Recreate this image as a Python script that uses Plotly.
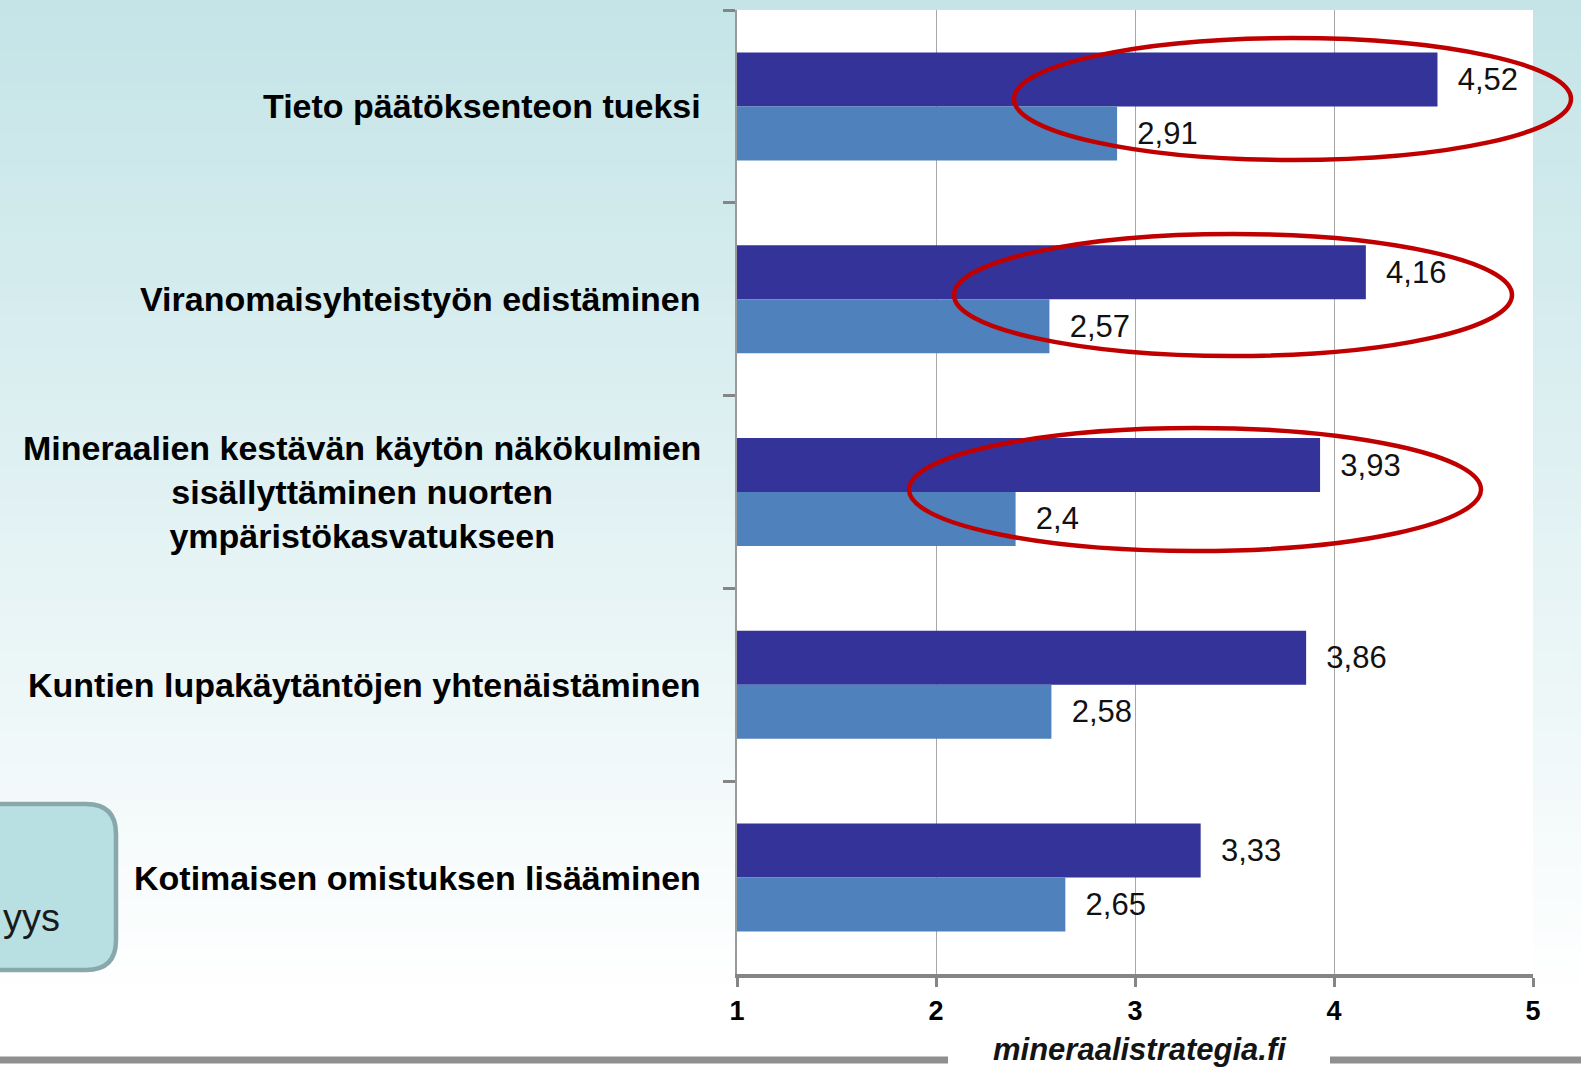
import plotly.graph_objects as go

# ---------------- data ----------------
categories = [
    "Tieto päätöksenteon tueksi",
    "Viranomaisyhteistyön edistäminen",
    "Mineraalien kestävän käytön näkökulmien<br>sisällyttäminen nuorten<br>ympäristökasvatukseen",
    "Kuntien lupakäytäntöjen yhtenäistäminen",
    "Kotimaisen omistuksen lisääminen",
]
series_a_name = "Tärkeys"
series_a = [4.52, 4.16, 3.93, 3.86, 3.33]
series_b_name = "Nykytila"
series_b = [2.91, 2.57, 2.40, 2.58, 2.65]
x_ticks = [1, 2, 3, 4, 5]
watermark = "mineraalistrategia.fi"
box_text = "yys"

# ---------------- layout geometry ----------------
W, H = 1581, 1069
ML, MR, MT, MB = 737, 48, 10, 95
PW, PH = W - ML - MR, H - MT - MB


def px(x):
    return (x - ML) / PW


def py(y):
    return (H - MB - y) / PH


FONT = "Arial, Liberation Sans, sans-serif"


def fmt(v):
    s = f"{v:.2f}".rstrip("0").rstrip(".")
    return "\u00a0\u00a0" + s.replace(".", ",")


fig = go.Figure()
fig.add_trace(go.Bar(
    name=series_a_name, y=categories, x=series_a, base=0, orientation="h",
    marker=dict(color="#333399", line=dict(width=0)),
    text=[fmt(v) for v in series_a], textposition="outside",
    textfont=dict(family=FONT, size=31, color="#111111"),
    constraintext="none", cliponaxis=False,
))
fig.add_trace(go.Bar(
    name=series_b_name, y=categories, x=series_b, base=0, orientation="h",
    marker=dict(color="#4F81BD", line=dict(width=0)),
    text=[fmt(v) for v in series_b], textposition="outside",
    textfont=dict(family=FONT, size=31, color="#111111"),
    constraintext="none", cliponaxis=False,
))

shapes = []
# background gradient (teal at top -> white at bottom)
top = (196, 228, 231)
n = 60
end_y = 1000
for i in range(n):
    y0 = end_y * i / n
    y1 = end_y * (i + 1) / n + 1
    t = (i + 0.5) / n
    c = tuple(round(top[k] + (255 - top[k]) * t) for k in range(3))
    shapes.append(dict(type="rect", xref="paper", yref="paper", layer="below",
                       x0=px(0), x1=px(W), y0=py(y1), y1=py(y0),
                       fillcolor=f"rgb{c}", line=dict(width=0)))
shapes.append(dict(type="rect", xref="paper", yref="paper", layer="below",
                   x0=px(0), x1=px(W), y0=py(H), y1=py(end_y),
                   fillcolor="white", line=dict(width=0)))
# white plot area
shapes.append(dict(type="rect", xref="paper", yref="paper", layer="below",
                   x0=0, x1=1, y0=0, y1=1, fillcolor="white", line=dict(width=0)))

# red highlight ellipses
for (x0, x1, y0, y1) in [(1014, 1571, 38, 160), (954, 1512, 234, 356), (909, 1481, 428, 551)]:
    shapes.append(dict(type="circle", xref="paper", yref="paper", layer="above",
                       x0=px(x0), x1=px(x1), y0=py(y1), y1=py(y0),
                       line=dict(color="#C00000", width=4.5)))

# rounded box at lower left
bx0, bx1, by0, by1, r = -30, 116, 804, 970, 30
path = (f"M {px(bx0)},{py(by0)} L {px(bx1 - r)},{py(by0)} "
        f"Q {px(bx1)},{py(by0)} {px(bx1)},{py(by0 + r)} "
        f"L {px(bx1)},{py(by1 - r)} Q {px(bx1)},{py(by1)} {px(bx1 - r)},{py(by1)} "
        f"L {px(bx0)},{py(by1)} Z")
shapes.append(dict(type="path", xref="paper", yref="paper", path=path,
                   fillcolor="#b8e0e3", line=dict(color="#88a8ab", width=4.5)))

# bottom rule with gap for watermark
for (x0, x1) in [(0, 948), (1330, W)]:
    shapes.append(dict(type="line", xref="paper", yref="paper",
                       x0=px(x0), x1=px(x1), y0=py(1060), y1=py(1060),
                       line=dict(color="#8f8f8f", width=7)))

annotations = []
for c in categories:
    annotations.append(dict(
        xref="paper", yref="y", x=0, y=c, xanchor="right", yanchor="middle",
        xshift=-34, text=f"<b>{c}</b>", showarrow=False, align="center",
        font=dict(family=FONT, size=34, color="black")))
annotations.append(dict(
    xref="paper", yref="paper", x=px(1140), y=py(1049), xanchor="center", yanchor="middle",
    text=f"<b><i>{watermark}</i></b>", showarrow=False, borderpad=0,
    font=dict(family=FONT, size=31, color="#141414")))
annotations.append(dict(
    xref="paper", yref="paper", x=px(62), y=py(918), xanchor="right", yanchor="middle",
    text=box_text, showarrow=False,
    font=dict(family=FONT, size=38, color="#1a1a1a")))

fig.update_layout(
    width=W, height=H,
    margin=dict(l=ML, r=MR, t=MT, b=MB, pad=0),
    paper_bgcolor="white", plot_bgcolor="rgba(0,0,0,0)",
    barmode="group", bargap=0.44, bargroupgap=0,
    showlegend=False,
    shapes=shapes, annotations=annotations,
    font=dict(family=FONT),
    xaxis=dict(
        range=[1, 5], tickvals=x_ticks, ticktext=[f"<b>{t}</b>" for t in x_ticks],
        showgrid=True, gridcolor="#a8a8a8", gridwidth=1.3,
        showline=True, linecolor="#858585", linewidth=3.5,
        ticks="outside", ticklen=9, tickwidth=3, tickcolor="#858585",
        tickfont=dict(family=FONT, size=27, color="black"),
        ticklabelstandoff=1, zeroline=False, fixedrange=True,
    ),
    yaxis=dict(
        autorange="reversed", type="category",
        showticklabels=False, showgrid=False, zeroline=False,
        showline=True, linecolor="#9a9a9a", linewidth=2,
        ticks="outside", tickson="boundaries", ticklen=12, tickwidth=2.5,
        tickcolor="#858585",
    ),
)

fig.write_html(
    "out.html",
    config={"displayModeBar": False},
    post_script="document.body.style.margin='0';document.body.style.overflow='hidden';",
)
